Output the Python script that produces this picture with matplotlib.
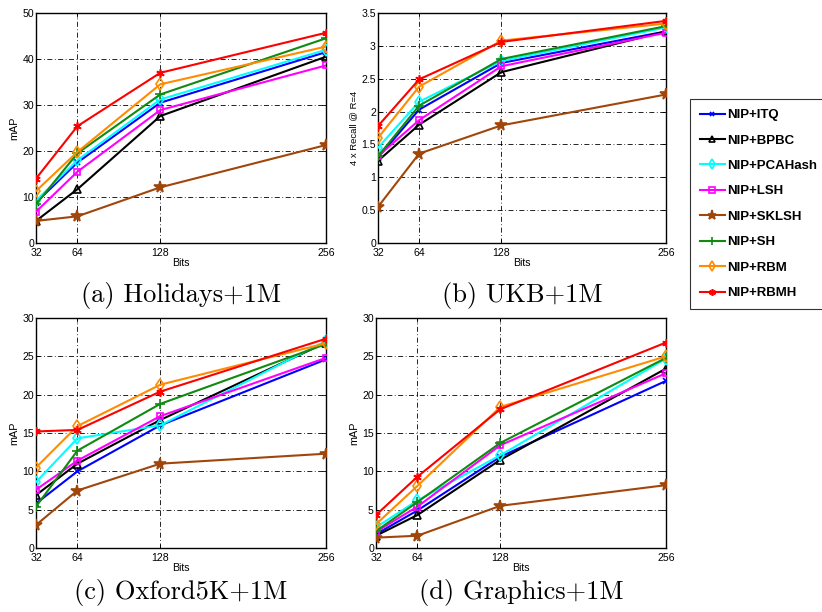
import matplotlib
matplotlib.use("Agg")
import matplotlib.pyplot as plt
from matplotlib.lines import Line2D
from matplotlib.ticker import FuncFormatter

bits = [32, 64, 128, 256]
methods = ["NIP+ITQ", "NIP+BPBC", "NIP+PCAHash", "NIP+LSH", "NIP+SKLSH", "NIP+SH", "NIP+RBM", "NIP+RBMH"]

holidays = {
    "NIP+ITQ":     [8.8, 17.5, 30.5, 41.5],
    "NIP+BPBC":    [4.8, 11.7, 27.6, 40.5],
    "NIP+PCAHash": [9.2, 18.0, 31.2, 42.0],
    "NIP+LSH":     [6.8, 15.5, 28.9, 38.6],
    "NIP+SKLSH":   [4.8, 5.8, 12.1, 21.3],
    "NIP+SH":      [8.4, 19.5, 32.3, 44.5],
    "NIP+RBM":     [11.3, 19.8, 34.5, 42.7],
    "NIP+RBMH":    [14.0, 25.4, 37.0, 45.7],
}
ukb = {
    "NIP+ITQ":     [1.30, 2.03, 2.74, 3.22],
    "NIP+BPBC":    [1.25, 1.80, 2.60, 3.22],
    "NIP+PCAHash": [1.45, 2.15, 2.77, 3.28],
    "NIP+LSH":     [1.32, 1.87, 2.69, 3.20],
    "NIP+SKLSH":   [0.55, 1.36, 1.79, 2.26],
    "NIP+SH":      [1.32, 2.09, 2.80, 3.30],
    "NIP+RBM":     [1.60, 2.38, 3.08, 3.34],
    "NIP+RBMH":    [1.78, 2.49, 3.06, 3.38],
}
oxford = {
    "NIP+ITQ":     [5.8, 10.0, 16.0, 24.6],
    "NIP+BPBC":    [6.9, 11.0, 16.7, 26.8],
    "NIP+PCAHash": [8.6, 14.3, 16.0, 27.0],
    "NIP+LSH":     [7.6, 11.4, 17.2, 24.8],
    "NIP+SKLSH":   [3.0, 7.5, 11.0, 12.3],
    "NIP+SH":      [5.4, 12.7, 18.8, 26.6],
    "NIP+RBM":     [10.5, 15.9, 21.3, 26.7],
    "NIP+RBMH":    [15.2, 15.4, 20.4, 27.3],
}
graphics = {
    "NIP+ITQ":     [1.8, 4.9, 11.9, 21.8],
    "NIP+BPBC":    [1.6, 4.3, 11.5, 23.4],
    "NIP+PCAHash": [2.7, 6.2, 12.1, 24.7],
    "NIP+LSH":     [2.1, 5.4, 13.4, 22.8],
    "NIP+SKLSH":   [1.35, 1.6, 5.5, 8.2],
    "NIP+SH":      [2.2, 6.0, 13.7, 24.8],
    "NIP+RBM":     [3.1, 8.1, 18.4, 25.0],
    "NIP+RBMH":    [4.3, 9.3, 18.1, 26.8],
}

captions = ["(a) Holidays+1M", "(b) UKB+1M", "(c) Oxford5K+1M", "(d) Graphics+1M"]
ylabels = ["mAP", "4 x Recall @ R=4", "mAP", "mAP"]
ymaxes = [50, 3.5, 30, 30]
ysteps = [10, 0.5, 5, 5]

styles = {
    "NIP+ITQ":     dict(color="#0000FF", marker="x", ms=4, mfc="none"),
    "NIP+BPBC":    dict(color="#000000", marker="^", ms=6, mfc="none"),
    "NIP+PCAHash": dict(color="#00FFFF", marker="d", ms=6.5, mfc="none"),
    "NIP+LSH":     dict(color="#FF00FF", marker="s", ms=5, mfc="none"),
    "NIP+SKLSH":   dict(color="#A0460A", marker="*", ms=8.5, mfc="#A0460A"),
    "NIP+SH":      dict(color="#108A10", marker="+", ms=6.5, mfc="none"),
    "NIP+RBM":     dict(color="#FF8C00", marker="d", ms=6.5, mfc="none"),
    "NIP+RBMH":    dict(color="#FF0000", marker=(6, 2, 0), ms=6, mfc="none"),
}

fig = plt.figure(figsize=(8.22, 6.12), dpi=100)
W, H = 822.0, 612.0
boxes = [(36, 13, 326, 243), (378, 13, 666, 243), (36, 318, 326, 548), (376, 318, 666, 548)]
cap_offsets = [52, 52, 45, 45]
datasets = [holidays, ukb, oxford, graphics]
tickfont = "Liberation Sans"

for i, (box, data) in enumerate(zip(boxes, datasets)):
    l, t, r, b = box
    ax = fig.add_axes([l / W, 1 - b / H, (r - l) / W, (b - t) / H])
    for m in methods:
        st = styles[m]
        ax.plot(bits, data[m], color=st["color"], marker=st["marker"], ms=st["ms"],
                mfc=st["mfc"], mec=st["color"], mew=1.2, lw=1.5, zorder=3)
    ax.set_xlim(32, 256)
    ax.set_ylim(0, ymaxes[i])
    ax.set_xticks(bits)
    n = int(round(ymaxes[i] / ysteps[i]))
    ax.set_yticks([k * ysteps[i] for k in range(n + 1)])
    ax.yaxis.set_major_formatter(FuncFormatter(lambda v, p: "%g" % v))
    ax.grid(True, color="black", linestyle=(0, (6, 3, 1, 3)), linewidth=0.6)
    ax.tick_params(direction="in", length=3, width=0.6, labelsize=7.6, pad=1.5,
                   top=True, right=True)
    ax.tick_params(axis="x", pad=3.5)
    for lab in ax.get_xticklabels() + ax.get_yticklabels():
        lab.set_fontfamily(tickfont)
    for sp in ax.spines.values():
        sp.set_linewidth(1.0)
    ax.set_xlabel("Bits", fontsize=7.6, family=tickfont, labelpad=0)
    ax.set_ylabel(ylabels[i], fontsize=7.8 if i != 1 else 6.8, family=tickfont, labelpad=2)
    cx = (l + r) / 2.0 / W
    fig.text(cx, 1 - (b + cap_offsets[i]) / H, captions[i], family="cmr10", fontsize=19,
             ha="center", va="center")

handles = [Line2D([0], [0], color=styles[m]["color"], marker=styles[m]["marker"],
                  ms=styles[m]["ms"] * 0.8, mfc=styles[m]["mfc"], mec=styles[m]["color"],
                  mew=1.2, lw=1.5) for m in methods]
leg = fig.legend(handles, methods, loc="upper left",
                 bbox_to_anchor=(690 / W, 1 - 99 / H), bbox_transform=fig.transFigure,
                 prop={"family": tickfont, "weight": "bold", "size": 9.5},
                 frameon=True, fancybox=False, edgecolor="black", handlelength=1.9,
                 handletextpad=0.15, labelspacing=1.0, borderpad=0.75, borderaxespad=0)
leg.get_frame().set_linewidth(0.8)

fig.savefig("out.png", dpi=100)
